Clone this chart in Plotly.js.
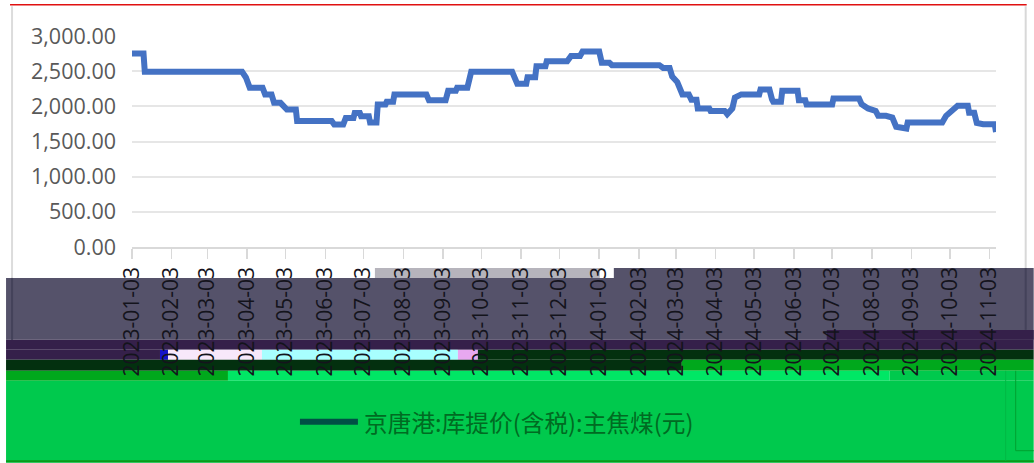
<!DOCTYPE html>
<html>
<head>
<meta charset="utf-8">
<script src="https://cdn.plot.ly/plotly-3.0.1.min.js"></script>
<style>html,body{margin:0;padding:0;background:#fff;overflow:hidden}</style>
</head>
<body>
<div id="chart" style="width:1034px;height:463px"></div>
<script>
const seriesName = '京唐港:库提价(含税):主焦煤(元)';
const dates = [
'2023-01-03','2023-01-12','2023-01-13','2023-03-30','2023-04-02','2023-04-05','2023-04-15','2023-04-17','2023-04-22','2023-04-24',
'2023-04-29','2023-05-04','2023-05-11','2023-05-12','2023-06-08','2023-06-10','2023-06-17','2023-06-19','2023-06-25','2023-06-26',
'2023-06-30','2023-07-01','2023-07-07','2023-07-08','2023-07-13','2023-07-14','2023-07-20','2023-07-21','2023-07-26','2023-07-27',
'2023-08-21','2023-08-23','2023-09-05','2023-09-07','2023-09-13','2023-09-14','2023-09-22','2023-09-25','2023-10-27','2023-10-31',
'2023-11-07','2023-11-08','2023-11-14','2023-11-15','2023-11-22','2023-11-23','2023-12-09','2023-12-12','2023-12-19','2023-12-21',
'2024-01-03','2024-01-05','2024-01-11','2024-01-13','2024-02-19','2024-02-22','2024-02-27','2024-02-29','2024-03-04','2024-03-08',
'2024-03-13','2024-03-15','2024-03-19','2024-03-20','2024-03-29','2024-03-30','2024-04-10','2024-04-12','2024-04-16','2024-04-18',
'2024-04-23','2024-05-07','2024-05-08','2024-05-15','2024-05-17','2024-05-18','2024-05-24','2024-05-25','2024-06-06','2024-06-07',
'2024-06-12','2024-06-13','2024-07-03','2024-07-04','2024-07-24','2024-07-26','2024-07-31','2024-08-06','2024-08-08','2024-08-14',
'2024-08-19','2024-08-22','2024-08-30','2024-08-31','2024-09-27','2024-09-30','2024-10-09','2024-10-17','2024-10-18','2024-10-22',
'2024-10-24','2024-10-29','2024-11-07','2024-11-08'];
const prices = [
2750,2750,2490,2490,2410,2265,2265,2170,2170,2050,
2050,1955,1955,1790,1790,1740,1740,1835,1835,1905,
1905,1860,1860,1770,1770,2025,2025,2065,2065,2170,
2170,2085,2085,2220,2220,2265,2265,2490,2490,2320,
2320,2415,2415,2570,2570,2640,2640,2715,2715,2780,
2780,2620,2620,2585,2585,2545,2545,2425,2345,2170,
2170,2095,2095,1970,1970,1935,1935,1890,1970,2125,
2170,2170,2240,2240,2100,2065,2065,2220,2220,2085,
2085,2025,2025,2110,2110,2030,1970,1935,1865,1865,
1840,1710,1685,1770,1770,1865,2010,2010,1910,1910,
1765,1745,1745,1635];
const yTicks = [0,500,1000,1500,2000,2500,3000];
const xTicks = ['2023-01-03','2023-02-03','2023-03-03','2023-04-03','2023-05-03','2023-06-03','2023-07-03','2023-08-03','2023-09-03','2023-10-03','2023-11-03','2023-12-03','2024-01-03','2024-02-03','2024-03-03','2024-04-03','2024-05-03','2024-06-03','2024-07-03','2024-08-03','2024-09-03','2024-10-03','2024-11-03'];

// Page geometry of the plot area, used only for decoration on the page (bands, frame, legend key)
const L=132, T=35.7, R=996.3, B=247;
const px = v => (v-L)/(R-L);
const py = v => (B-v)/(B-T);
const rect = (x0,y0,x1,y1,c) => ({type:'rect',xref:'paper',yref:'paper',layer:'below',x0:px(x0),x1:px(x1),y0:py(y0),y1:py(y1),fillcolor:c,line:{width:0}});
const line = (x0,y0,x1,y1,c,w) => ({type:'line',xref:'paper',yref:'paper',layer:'below',x0:px(x0),x1:px(x1),y0:py(y0),y1:py(y1),line:{color:c,width:w}});

const shapes = [
  line(10,4.5,1027,4.5,'#e01010',1.5),
  line(12,6,12,278,'#dcdcdc',2),
  line(1026,6,1026,268,'#d8d8d8',2),
  rect(6,278,1034,340,'#55526a'),
  rect(614,268,1034,278,'#55526a'),
  rect(375,268,600,278,'#b6b4bc'),
  rect(6,340,1034,350,'#35204a'),
  rect(827,330,1034,340,'#35204a'),
  rect(6,350,160,360,'#35204a'),
  rect(160,350,168,360,'#1414c8'),
  rect(168,350,262,360,'#f8e8fa'),
  rect(262,350,458,360,'#a8ffff'),
  rect(458,350,478,360,'#e8a8f0'),
  rect(478,350,1034,360,'#03300f'),
  rect(6,360,682,371,'#03300f'),
  rect(682,360,1034,371,'#00a81c'),
  rect(6,371,228,381,'#00a81c'),
  rect(228,371,890,381,'#00e765'),
  rect(890,371,1034,381,'#00c94d'),
  rect(6,381,1034,463,'#00c94d'),
  line(6,461.5,1034,461.5,'#0a9a1a',2),
  line(1006,371,1006,461,'#00b844',1),
  line(1016,371,1016,451,'#00a030',1),
  line(1016,451,1034,451,'#00a030',1),
  line(12,278,12,340,'#44425a',2),
  line(1026,268,1026,330,'#44425a',2),
  line(300,422,358,422,'#005045',6)
];

const data = [{
  type:'scatter', mode:'lines', name:seriesName, x:dates, y:prices,
  line:{color:'#4472c4',width:6,shape:'linear'}, showlegend:false, cliponaxis:true
}];
const layout = {
  width:1034,height:463,
  margin:{l:L,r:1034-R,t:T,b:463-B,pad:0},
  paper_bgcolor:'#ffffff',plot_bgcolor:'rgba(0,0,0,0)',
  showlegend:false,
  shapes:shapes,
  xaxis:{type:'date',range:['2023-01-03','2024-11-08'],tickmode:'array',tickvals:xTicks,ticktext:xTicks,
    tickangle:-90,ticks:'outside',ticklen:10,tickwidth:1.5,tickcolor:'#d9d9d9',
    showline:true,linecolor:'#d9d9d9',linewidth:1.5,showgrid:false,zeroline:false,
    tickfont:{family:'"Open Sans",sans-serif',size:21,color:'#14141c'},ticklabelstandoff:0},
  yaxis:{range:[0,3000],tickmode:'array',tickvals:yTicks,ticktext:yTicks.map(v=>v.toLocaleString('en-US',{minimumFractionDigits:2})),
    showgrid:true,gridcolor:'#e6e6e6',gridwidth:2,zeroline:false,showline:false,ticks:'',
    tickfont:{family:'"Open Sans",sans-serif',size:21.5,color:'#595959'},ticklabelstandoff:15},
  annotations:[{xref:'paper',yref:'paper',x:px(362),y:py(422),xanchor:'left',yanchor:'middle',showarrow:false,
    text:seriesName,font:{family:'"Noto Sans CJK SC",sans-serif',size:23.7,color:'#006b22'}}]
};
Plotly.newPlot('chart',data,layout,{displayModeBar:false,staticPlot:true});
</script>
</body>
</html>
